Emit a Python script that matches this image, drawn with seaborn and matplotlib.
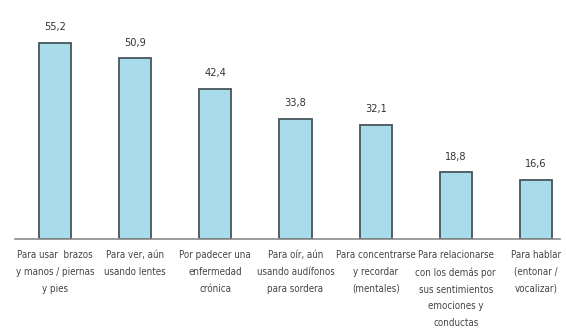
import matplotlib
matplotlib.use("Agg")
import matplotlib.pyplot as plt
import seaborn as sns
import pandas as pd

categories = [
    "Para usar  brazos\ny manos / piernas\ny pies",
    "Para ver, aún\nusando lentes",
    "Por padecer una\nenfermedad\ncrónica",
    "Para oír, aún\nusando audífonos\npara sordera",
    "Para concentrarse\ny recordar\n(mentales)",
    "Para relacionarse\ncon los demás por\nsus sentimientos\nemociones y\nconductas",
    "Para hablar\n(entonar /\nvocalizar)",
]
values = [55.2, 50.9, 42.4, 33.8, 32.1, 18.8, 16.6]
value_labels = ["55,2", "50,9", "42,4", "33,8", "32,1", "18,8", "16,6"]

sns.set_style("white")
plt.rcParams['font.family'] = ['DejaVu Sans']
plt.rcParams['font.stretch'] = 'condensed'

W, H = 566, 331
fig = plt.figure(figsize=(W / 100, H / 100), dpi=100)
left, right = 15, 560
bottom_px, top_px = 239, 19
ax = fig.add_axes([left / W, (H - bottom_px) / H, (right - left) / W, (bottom_px - top_px) / H])

df = pd.DataFrame({"cat": categories, "val": values})
sns.barplot(data=df, x="cat", y="val", ax=ax, color="#a9dcea", width=0.4,
            edgecolor="#46555b", linewidth=1.3, saturation=1)

ax.set_xlim(-0.5, 6.3)
ax.set_ylim(0, 62)
for i, (v, lab) in enumerate(zip(values, value_labels)):
    ax.text(i, v + 3.0, lab, ha="center", va="bottom", fontsize=7.8, color="#333333",
            fontstretch="condensed")

ax.set_xlabel("")
ax.set_ylabel("")
ax.set_yticks([])
ax.tick_params(axis="x", length=0, pad=8, labelsize=7.0, labelcolor="#444444")
for lbl in ax.get_xticklabels():
    lbl.set_linespacing(1.85)
    lbl.set_fontstretch("condensed")
for s in ["top", "right", "left"]:
    ax.spines[s].set_visible(False)
ax.spines["bottom"].set_color("#8a8a8a")
ax.spines["bottom"].set_linewidth(1.2)

fig.savefig("out.png", dpi=100)
